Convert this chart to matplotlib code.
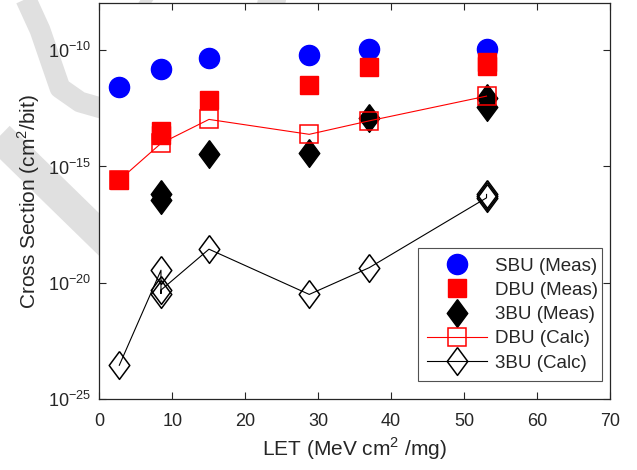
import matplotlib
matplotlib.use("Agg")
import matplotlib.pyplot as plt
from matplotlib.lines import Line2D
import numpy as np

plt.rcParams['font.family'] = ['Liberation Sans', 'DejaVu Sans']
plt.rcParams['mathtext.fontset'] = 'custom'
plt.rcParams['mathtext.rm'] = 'Liberation Sans'

# measured single bit upsets
let_sbu = [2.74, 8.45, 15.03, 28.77, 36.99, 53.07]
sbu_meas = [2.6e-12, 1.5e-11, 4.6e-11, 6.2e-11, 1.07e-10, 1.1e-10]

# measured double bit upsets
let_dbu = [2.74, 8.45, 8.45, 15.03, 28.77, 36.99, 53.07, 53.07]
dbu_meas = [2.6e-16, 3.4e-14, 2.2e-14, 7.1e-13, 3.2e-12, 1.9e-11, 2.95e-11, 2.1e-11]

# measured triple bit upsets
let_3bu = [8.45, 8.45, 15.03, 28.77, 36.99, 53.07, 53.07]
tbu_meas = [6.9e-17, 3.5e-17, 3.4e-15, 3.9e-15, 1.15e-13, 8.3e-13, 3.6e-13]

# calculated
let_dbu_calc = [2.74, 8.45, 15.03, 28.77, 36.99, 53.07]
dbu_calc = [2.6e-16, 9.8e-15, 1.05e-13, 2.4e-14, 9.1e-14, 1.05e-12]

let_3bu_calc = [2.74, 8.45, 8.45, 8.45, 15.03, 28.77, 36.99, 53.07, 53.07, 53.07]
tbu_calc = [2.9e-24, 3.5e-20, 3.5e-21, 4.9e-21, 2.8e-19, 3.2e-21, 4.5e-20, 4.5e-17, 5.4e-17, 6.3e-17]

dark = '#262626'
diamond = [(0, 1), (0.74, 0), (0, -1), (-0.74, 0), (0, 1)]

fig = plt.figure(figsize=(6.37, 4.70), dpi=100)

# faint watermark behind the axes
W, H = 637.0, 470.0
def wm(pts, lw):
    xs = [p[0] / W for p in pts]
    ys = [1 - p[1] / H for p in pts]
    fig.add_artist(Line2D(xs, ys, transform=fig.transFigure, color='#e0e0e0',
                          lw=lw, solid_capstyle='butt', solid_joinstyle='round', zorder=-5))
wm([(24, -5), (40, 30), (51, 62), (60, 88), (80, 102), (115, 112)], 15)
wm([(-10, 128), (115, 250)], 22)
wm([(135, -5), (150, 5)], 14)
wm([(240, -5), (285, 5)], 14)

ax = fig.add_axes([0.1559, 0.1504, 0.8018, 0.8422])
ax.set_facecolor('white')

ax.plot(let_sbu, sbu_meas, 'o', color='blue', ms=14.5, ls='none', label='SBU (Meas)')
ax.plot(let_dbu, dbu_meas, 's', color='red', ms=12.5, ls='none', label='DBU (Meas)')
ax.plot(let_3bu, tbu_meas, marker=diamond, color='black', ms=20, ls='none', label='3BU (Meas)')
ax.plot(let_dbu_calc, dbu_calc, '-', color='red', lw=0.8, marker='s', ms=12.5,
        mfc='none', mec='red', mew=1.1, label='DBU (Calc)')
ax.plot(let_3bu_calc, tbu_calc, '-', color='black', lw=0.8, marker=diamond, ms=20,
        mfc='none', mec='black', mew=1.1, label='3BU (Calc)')

ax.set_yscale('log')
ax.set_xlim(0, 70)
ax.set_ylim(1e-25, 1e-8)
ax.set_xticks(np.arange(0, 71, 10))
ax.set_yticks([1e-25, 1e-20, 1e-15, 1e-10])
ax.yaxis.set_minor_locator(matplotlib.ticker.NullLocator())
ax.set_yticklabels(['$10^{-25}$', '$10^{-20}$', '$10^{-15}$', '$10^{-10}$'])
ax.tick_params(direction='in', top=True, right=True, length=5, width=0.8,
               colors=dark, labelsize=13)
ax.tick_params(axis='x', pad=10)
ax.tick_params(axis='y', pad=6)
for s in ax.spines.values():
    s.set_color(dark)
    s.set_linewidth(0.9)

ax.set_xlabel('LET (MeV cm$^2$ /mg)', fontsize=15, color=dark, labelpad=4)
ax.set_ylabel('Cross Section (cm$^2$/bit)', fontsize=15, color=dark, labelpad=4)

leg = ax.legend(loc='lower left', bbox_to_anchor=(0.624, 0.046, 0.36, 0.334), mode='expand',
                fontsize=13.5, frameon=True, fancybox=False, edgecolor=dark,
                handlelength=3.2, handletextpad=0.4, borderaxespad=0, labelspacing=0.38,
                borderpad=0.5)
leg.get_frame().set_linewidth(0.8)
for t in leg.get_texts():
    t.set_color(dark)

fig.savefig('out.png', dpi=100)
